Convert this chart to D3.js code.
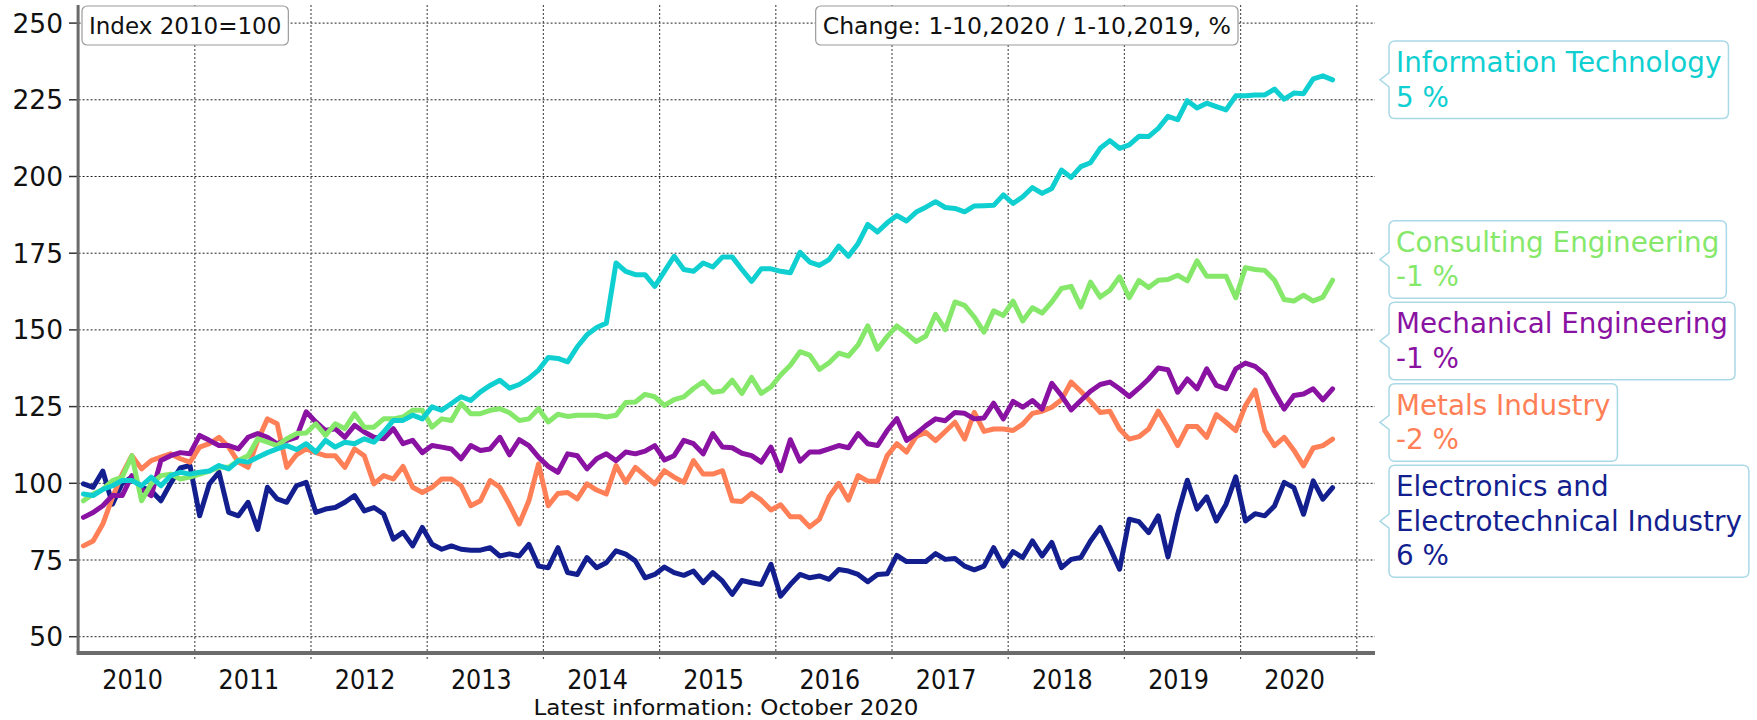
<!DOCTYPE html>
<html>
<head>
<meta charset="utf-8">
<script src="https://cdn.jsdelivr.net/npm/d3@7"></script>
<style>
    body { margin: 0; background: #fff; }
    svg text { font-family: "DejaVu Sans", Verdana, sans-serif; }
</style>
</head>
<body>
<svg id="chart" width="1757" height="720"></svg>
<script>
// monthly index values, Jan 2010 .. Oct 2020 (2010 = 100)
const years = [2010, 2011, 2012, 2013, 2014, 2015, 2016, 2017, 2018, 2019, 2020];
const yTicks = [50, 75, 100, 125, 150, 175, 200, 225, 250];

const itValues = [
    96.5, 96, 98, 99.2, 100.9, 100.9, 99.2, 102, 99.2, 102.5, 103.6, 103,
    103.6, 104, 105.8, 104.7, 107.4, 106.9, 108.5, 110, 111.2, 112.3, 111, 112.9,
    110.2, 114, 111.8, 113.4, 112.9, 114.5, 113.4, 116.7, 120.5, 120.5, 122.2, 121,
    124.9, 123.8, 126, 128.2, 127, 129.8, 131.9, 133.6, 131, 132.2, 134.2, 136.9,
    141, 140.7, 139.6, 144.5, 148.4, 150.8, 152.2, 171.8, 169.1, 168, 168, 164.2,
    169.1, 174, 169.7, 169.1, 171.8, 170.5, 173.8, 173.8, 169.7, 165.8, 169.9, 169.9,
    169.1, 168.6, 175.3, 172.1, 171, 172.9, 177.3, 174, 178.2, 184.4, 181.9, 184.9,
    187.3, 185.5, 188.4, 190, 191.8, 189.9, 189.6, 188.5, 190.4, 190.5, 190.6, 194,
    191.2, 193.4, 196.4, 194.5, 196.1, 202.1, 199.7, 203.2, 204.5, 209.2, 211.7, 209.2,
    210.3, 213.1, 213, 215.7, 219.6, 218.5, 224.7, 222.3, 223.9, 222.8, 221.7, 226.3,
    226.3, 226.6, 226.6, 228.5, 225.2, 227.2, 227, 231.8, 232.8, 231.5
];

const consultingValues = [
    94.3, 96.5, 98, 100.9, 102, 109, 94.3, 99.8, 102.5, 103, 101.4, 102,
    103, 104, 105.2, 105.2, 107.4, 109, 114.5, 113.4, 112.3, 114.5, 116.2, 116.4,
    119.4, 115.6, 119.4, 117.8, 122.7, 118.3, 118.3, 121, 121, 121.6, 123.8, 123.8,
    118.3, 121, 120.5, 126, 122.7, 122.7, 123.8, 124.3, 123, 120.5, 121, 124.3,
    120, 122.5, 121.8, 122.2, 122.2, 122.2, 121.6, 122.2, 126.3, 126.5, 129, 128.2,
    125.4, 127.3, 128.2, 130.9, 133.1, 129.7, 130.1, 133.6, 129.3, 134.5, 129.3, 131.4,
    135.3, 138.5, 142.9, 141.8, 137.1, 139.3, 142.4, 141.5, 145.1, 151.3, 143.7, 147.8,
    151.3, 148.9, 146.2, 148, 155.1, 150.1, 159.1, 158, 154.2, 149.3, 156.2, 154.7,
    159.4, 152.9, 157.2, 155.5, 159.1, 163.5, 164.2, 157.5, 165.6, 160.7, 162.9, 167.3,
    160.5, 166.1, 163.8, 166.2, 166.4, 167.8, 166, 172.5, 167.5, 167.5, 167.5, 160.5,
    170.3, 169.7, 169.4, 166.2, 159.9, 159.4, 161.3, 159.4, 160.7, 166.2
];

const mechanicalValues = [
    88.9, 90.5, 92.7, 96, 96, 102.5, 98, 96, 107.4, 109, 110, 109.6,
    115.6, 114, 112.3, 112.3, 111.2, 115, 116.2, 115, 112.9, 114, 115, 123.3,
    120, 117.2, 117.8, 115, 118.9, 116.7, 115, 114.5, 117.8, 112.9, 114, 110,
    112.3, 111.8, 111.2, 108, 112.3, 110.7, 111.2, 115, 109.3, 114.2, 112.3, 108.5,
    105.5, 103.6, 109.6, 109, 104.7, 108, 109.6, 107.4, 110.2, 109.6, 110.5, 112.3,
    107.6, 109, 114, 112.9, 109.6, 116.2, 111.8, 111.6, 109.8, 109, 106.9, 111.8,
    104.1, 114.2, 107.2, 110.2, 110.2, 111.2, 112.3, 111.6, 116.2, 112.9, 112.3, 117.2,
    121.1, 114, 116.2, 118.8, 121, 120.4, 123.1, 122.8, 121, 121.3, 126.1, 121,
    126.7, 124.8, 127, 124.2, 132.6, 128.6, 123.9, 127, 130, 132.2, 133, 130.8,
    128.3, 131, 134, 137.6, 137, 129.7, 134, 130.8, 137.3, 131.9, 130.8, 137.3,
    139.2, 138.1, 135.5, 129.7, 124.2, 128.6, 129.1, 130.8, 127.2, 130.8
];

const metalsValues = [
    79.6, 81.2, 86.7, 95.4, 103, 109, 104.7, 107.4, 108.5, 109.6, 108, 106.9,
    111.8, 112.9, 115, 111.8, 106.9, 105.2, 114, 121, 119.4, 105.2, 109.3, 111.2,
    110, 109, 109, 105.2, 111.2, 109, 99.8, 102.5, 101.4, 105.5, 98.7, 97,
    98.7, 101.4, 101.4, 99.2, 92.7, 94.3, 100.9, 98.7, 93, 86.7, 94.3, 106.3,
    92.7, 96.7, 97, 94.9, 99.8, 97.8, 96.5, 105.8, 100.3, 105.2, 102.5, 99.8,
    104.1, 102, 100.3, 107.4, 103, 103, 104.1, 94.3, 94.1, 96.7, 94.5, 91.3,
    93, 89.1, 89.1, 85.8, 88.3, 95.6, 100, 94.5, 102.5, 100.7, 100.7, 109,
    112.9, 110.2, 115.3, 116.6, 113.9, 116.9, 119.9, 114.4, 123.1, 116.9, 117.7, 117.7,
    117.2, 119.3, 122.8, 123.5, 124.8, 127.2, 133, 130, 126.7, 123.1, 123.5, 117.7,
    114.4, 115.2, 117.7, 123.5, 118.2, 112.3, 118.5, 118.5, 115, 122.4, 119.9, 117.2,
    125.3, 130.4, 117.2, 112.3, 115, 110.8, 105.7, 111.5, 112.3, 114.4
];

const electronicsValues = [
    99.8, 98.7, 104, 93.2, 100, 102, 98.7, 97.6, 94.3, 100, 105, 105.8,
    89.4, 99.8, 103.6, 90.5, 89.4, 93.8, 85, 98.7, 94.9, 93.8, 99.2, 100.3,
    90.5, 91.6, 92.1, 93.8, 96, 91, 92.1, 90, 81.8, 84, 79.6, 85.6,
    80.1, 78.5, 79.6, 78.5, 78.2, 78.2, 79, 76.3, 77, 76.3, 80.1, 73,
    72.5, 79, 70.9, 70.3, 75.8, 72.5, 74.1, 78, 76.9, 74.7, 69.2, 70.3,
    72.7, 70.9, 70, 71.4, 67.6, 70.9, 68.1, 63.8, 68.3, 67.6, 67, 73.6,
    63.2, 67, 70.3, 69.2, 69.8, 68.7, 71.9, 71.4, 70.3, 67.9, 70.3, 70.5,
    76.5, 74.5, 74.5, 74.5, 77.1, 75.2, 75.5, 73, 71.8, 73, 79, 73,
    77.7, 75.8, 81.2, 76.3, 80.7, 72.5, 75.2, 75.8, 81.2, 85.6, 79, 72,
    88.3, 87.5, 83.9, 89.4, 76, 89.9, 101, 91.6, 95.6, 87.7, 93.2, 102.1,
    87.7, 90.1, 89.4, 92.6, 100.3, 98.6, 89.9, 100.8, 94.8, 98.6
];

const seriesNames = [
    ['Information Technology'],
    ['Consulting Engineering'],
    ['Mechanical Engineering'],
    ['Metals Industry'],
    ['Electronics and', 'Electrotechnical Industry']
];
const seriesChanges = ['5 %', '-1 %', '-1 %', '-2 %', '6 %'];
const seriesColours = ['#0fcfd0', '#86e86a', '#8a12a2', '#ff7f57', '#141f8f'];
const seriesValues = [itValues, consultingValues, mechanicalValues, metalsValues, electronicsValues];

const svg = d3.select('#chart');

const left = 78.6;
const monthW = 116.2 / 12;
const x = d3.scaleLinear().domain([0, 132]).range([left, left + 132 * monthW]);
const y = d3.scaleLinear().domain([50, 250]).range([636.7, 23.1]);
const plotTop = 5;
const plotBottom = 653;
const plotRight = 1375;

// grid
const grid = svg.append('g').classed('grid', true);
grid.selectAll('line.h')
    .data(yTicks)
    .enter()
    .append('line')
    .classed('h', true)
    .attr('x1', left).attr('x2', plotRight)
    .attr('y1', d => y(d)).attr('y2', d => y(d))
    .attr('stroke', '#222').attr('stroke-width', 1)
    .attr('stroke-dasharray', '2,2');

grid.selectAll('line.v')
    .data(d3.range(1, years.length + 1))
    .enter()
    .append('line')
    .classed('v', true)
    .attr('x1', d => x(d * 12)).attr('x2', d => x(d * 12))
    .attr('y1', plotTop).attr('y2', plotBottom + 8)
    .attr('stroke', '#555').attr('stroke-width', 1.2)
    .attr('stroke-dasharray', '2,2');

// y axis
svg.selectAll('line.ytick')
    .data(yTicks)
    .enter()
    .append('line')
    .attr('x1', 69).attr('x2', left)
    .attr('y1', d => y(d)).attr('y2', d => y(d))
    .attr('stroke', '#333').attr('stroke-width', 1.5);

svg.selectAll('text.ylab')
    .data(yTicks)
    .enter()
    .append('text')
    .classed('ylab', true)
    .attr('x', 63)
    .attr('y', d => y(d) + 9.5)
    .attr('text-anchor', 'end')
    .attr('font-size', 26.5)
    .attr('fill', '#111')
    .text(d => d);

// x labels, a bit condensed
svg.selectAll('text.xlab')
    .data(years)
    .enter()
    .append('text')
    .classed('xlab', true)
    .attr('x', (d, i) => x(i * 12 + 6) - 4)
    .attr('y', 689)
    .attr('text-anchor', 'middle')
    .attr('font-size', 26.5)
    .attr('fill', '#111')
    .text(d => d)
    .each(function () {
        const len = this.getComputedTextLength();
        d3.select(this).attr('textLength', len * 0.9).attr('lengthAdjust', 'spacingAndGlyphs');
    });

svg.append('text')
    .attr('x', 726)
    .attr('y', 715)
    .attr('text-anchor', 'middle')
    .attr('font-size', 22)
    .attr('fill', '#111')
    .text('Latest information: October 2020')
    .each(function () {
        d3.select(this).attr('textLength', 385).attr('lengthAdjust', 'spacingAndGlyphs');
    });

// lines
const line = d3.line()
    .x((d, i) => x(i + 0.5))
    .y(d => y(d));

const drawOrder = [4, 3, 2, 1, 0];
svg.append('g').classed('lines', true)
    .selectAll('path')
    .data(drawOrder)
    .enter()
    .append('path')
    .attr('d', k => line(seriesValues[k]))
    .attr('fill', 'none')
    .attr('stroke', k => seriesColours[k])
    .attr('stroke-width', 5)
    .attr('stroke-linejoin', 'round')
    .attr('stroke-linecap', 'round');

// axis lines on top
svg.append('line')
    .attr('x1', left - 0.5).attr('x2', left - 0.5)
    .attr('y1', plotTop).attr('y2', plotBottom)
    .attr('stroke', '#6b6b6b').attr('stroke-width', 3);
svg.append('line')
    .attr('x1', left - 2).attr('x2', plotRight)
    .attr('y1', plotBottom).attr('y2', plotBottom)
    .attr('stroke', '#6b6b6b').attr('stroke-width', 4);

// header boxes
const noteBox = (text, x0, anchorRight, size) => {
    const g = svg.append('g');
    const t = g.append('text')
        .attr('y', 34)
        .attr('font-size', size)
        .attr('fill', '#111')
        .text(text);
    const w = t.node().getComputedTextLength() + 14;
    const bx = anchorRight ? x0 - w : x0;
    t.attr('x', bx + 7);
    g.insert('rect', 'text')
        .attr('x', bx).attr('y', 6)
        .attr('width', w).attr('height', 39)
        .attr('rx', 5)
        .attr('fill', '#fff')
        .attr('stroke', '#9a9a9a')
        .attr('stroke-width', 1.2);
};
noteBox('Index 2010=100', 82, false, 23);
noteBox('Change: 1-10,2020 / 1-10,2019, %', 1238, true, 23.6);

// end labels
const lineStep = 34.5;
const gap = 4;
const items = seriesValues.map((vals, k) => {
    const lines = seriesNames[k].concat([seriesChanges[k]]);
    return {
        k: k,
        lines: lines,
        target: y(vals[vals.length - 1]),
        h: 31 + (lines.length - 1) * lineStep + 12
    };
}).sort((a, b) => a.target - b.target);

let clusters = items.map(it => ({ items: [it] }));
const place = c => {
    const H = d3.sum(c.items, d => d.h) + gap * (c.items.length - 1);
    const m = d3.mean(c.items, d => d.target);
    c.top = Math.max(plotTop, m - H / 2);
    c.H = H;
};
clusters.forEach(place);
let merged = true;
while (merged) {
    merged = false;
    for (let i = 0; i < clusters.length - 1; i++) {
        const a = clusters[i], b = clusters[i + 1];
        if (a.top + a.H + gap > b.top) {
            a.items = a.items.concat(b.items);
            clusters.splice(i + 1, 1);
            place(a);
            merged = true;
            break;
        }
    }
}

const boxX = 1389;
const labels = svg.append('g').classed('labels', true);
clusters.forEach(c => {
    let top = c.top;
    c.items.forEach(it => {
        const g = labels.append('g');
        const t = g.append('text')
            .attr('font-size', 27.8)
            .attr('fill', seriesColours[it.k]);
        it.lines.forEach((s, j) => {
            t.append('tspan')
                .attr('x', boxX + 7)
                .attr('y', top + 31 + j * lineStep)
                .text(s);
        });
        const w = t.node().getBBox().width + 14;
        const h = it.h;
        const cy = top + h / 2;
        const r = 6;
        const x0 = boxX, y0 = top;
        const p = `M${x0 + r},${y0} H${x0 + w - r} Q${x0 + w},${y0} ${x0 + w},${y0 + r} ` +
            `V${y0 + h - r} Q${x0 + w},${y0 + h} ${x0 + w - r},${y0 + h} H${x0 + r} ` +
            `Q${x0},${y0 + h} ${x0},${y0 + h - r} V${cy + 7} L${x0 - 9},${cy} L${x0},${cy - 7} ` +
            `V${y0 + r} Q${x0},${y0} ${x0 + r},${y0} Z`;
        g.insert('path', 'text')
            .attr('d', p)
            .attr('fill', '#fff')
            .attr('stroke', '#a9d9e6')
            .attr('stroke-width', 1.5);
        top += h + gap;
    });
});
</script>
</body>
</html>
